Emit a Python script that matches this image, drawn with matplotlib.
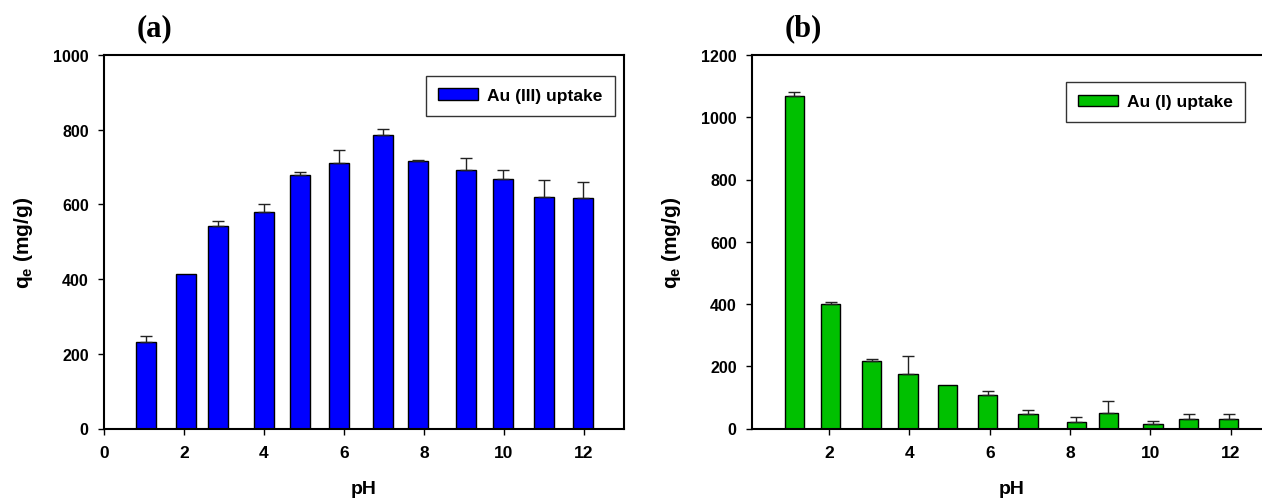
import matplotlib
matplotlib.use("Agg")
import matplotlib.pyplot as plt
import numpy as np

# ---- data ---------------------------------------------------------------
# (a) Au(III) uptake vs pH
ph_a = [1.05, 2.04, 2.84, 4.01, 4.89, 5.87, 6.98, 7.86, 9.04, 9.97, 10.99, 11.97]
qe_a = [231, 413, 541, 579, 680, 710, 787, 715, 693, 668, 621, 618]
err_a = [16, 0, 14, 22, 6, 35, 15, 3, 32, 25, 44, 42]

# (b) Au(I) uptake vs pH
ph_b = [1.13, 2.04, 3.06, 3.96, 4.95, 5.95, 6.95, 8.15, 8.95, 10.06, 10.95, 11.95]
qe_b = [1067, 400, 216, 175, 140, 107, 47, 21, 51, 16, 32, 32]
err_b = [15, 7, 8, 57, 0, 15, 12, 15, 38, 9, 16, 16]

plt.rcParams["font.family"] = ["Liberation Sans", "DejaVu Sans"]
plt.rcParams["font.weight"] = "bold"
plt.rcParams["mathtext.fontset"] = "custom"
plt.rcParams["mathtext.rm"] = "Liberation Sans:bold"
plt.rcParams["mathtext.it"] = "Liberation Sans:bold"
plt.rcParams["mathtext.bf"] = "Liberation Sans:bold"

W, H = 1262, 502
fig = plt.figure(figsize=(W / 100, H / 100), dpi=100)

# axes boxes in pixels
ax_a = fig.add_axes([104 / W, 1 - 429.5 / H, 520 / W, 373.5 / H])
ax_b = fig.add_axes([752 / W, 1 - 429.5 / H, 519 / W, 373.5 / H])


def draw(ax, x, y, err, color, label, width, ymax, xmin, xticks):
    x = np.asarray(x, dtype=float)
    y = np.asarray(y, dtype=float)
    err = np.asarray(err, dtype=float)
    ax.bar(x, y, width=width, color=color, edgecolor="black", linewidth=1.0,
           label=label, zorder=2)
    # upper error bars only; skip points with no visible error
    m = err > 0
    ax.errorbar(x[m], y[m], yerr=[np.zeros(m.sum()), err[m]], fmt="none",
                ecolor="#222222", elinewidth=1.0, capsize=4, capthick=1.0,
                zorder=3)
    ax.set_xlim(xmin, 13)
    ax.set_ylim(0, ymax)
    ax.set_xticks(xticks)
    ax.set_yticks(np.arange(0, ymax + 1, 200))
    for s in ax.spines.values():
        s.set_linewidth(1.5)
    ax.tick_params(axis="both", direction="out", length=4, width=1.0)
    ax.tick_params(axis="y", labelsize=11.5, pad=7)
    ax.tick_params(axis="x", labelsize=12.5, pad=8)
    ax.set_xlabel("pH", fontsize=14, fontweight="bold", labelpad=14)
    ax.set_ylabel(r"q$_{\rm e}$ (mg/g)", fontsize=15, fontweight="bold",
                  labelpad=13)


draw(ax_a, ph_a, qe_a, err_a, "#0000FF", "Au (III) uptake", 0.5, 1000, 0,
     np.arange(0, 13, 2))
draw(ax_b, ph_b, qe_b, err_b, "#00C000", "Au (I) uptake", 0.48, 1200, 0.08,
     np.arange(2, 13, 2))

leg_kw = dict(fontsize=12.5, frameon=True, fancybox=False, shadow=False,
              handlelength=2.3, handleheight=0.62, handletextpad=0.5,
              borderpad=0.72, borderaxespad=0)
la = ax_a.legend(loc="upper right", bbox_to_anchor=(0.982, 0.945), **leg_kw)
lb = ax_b.legend(loc="upper right", bbox_to_anchor=(0.95, 0.928), **leg_kw)
for lg in (la, lb):
    lg.get_frame().set_edgecolor("black")
    lg.get_frame().set_linewidth(1.0)
    for t in lg.get_texts():
        t.set_fontweight("bold")

fig.text(154 / W, 1 - 29 / H, "(a)", family=["Liberation Serif", "DejaVu Serif"],
         fontweight="bold", fontsize=22, ha="center", va="center")
fig.text(803 / W, 1 - 29 / H, "(b)", family=["Liberation Serif", "DejaVu Serif"],
         fontweight="bold", fontsize=22, ha="center", va="center")

fig.savefig("out.png", dpi=100)
